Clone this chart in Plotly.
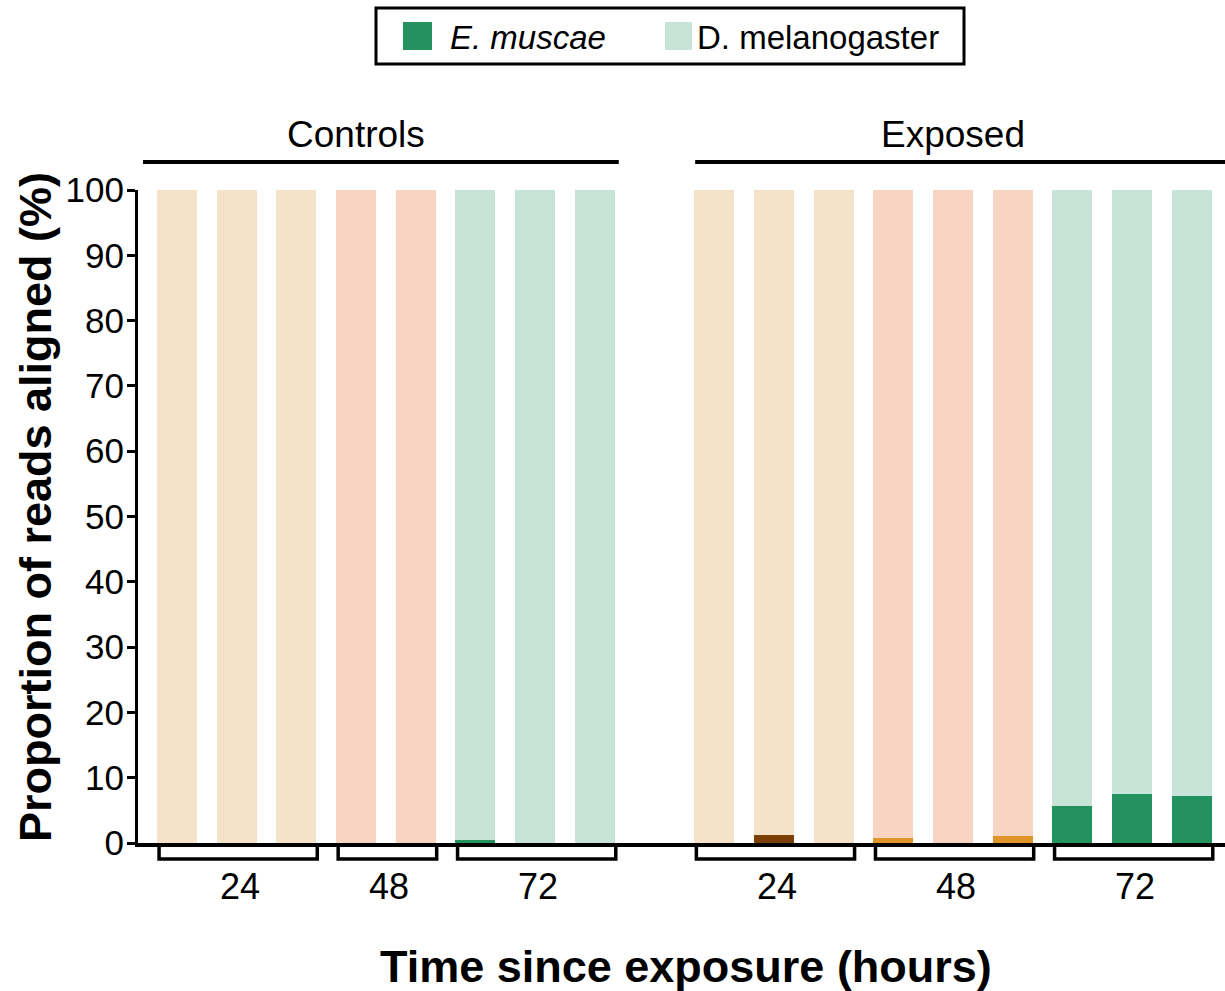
import plotly.graph_objects as go

# ---------------- data ----------------
groups = ["Controls", "Exposed"]
control_times = ["24", "24", "24", "48", "48", "72", "72", "72"]
exposed_times = ["24", "24", "24", "48", "48", "48", "72", "72", "72"]
emuscae_controls = [0, 0, 0, 0, 0, 0.4, 0, 0]
emuscae_exposed = [0, 1.2, 0, 0.7, 0, 1.0, 5.7, 7.5, 7.2]
time_labels = ["24", "48", "72"]
y_ticks = [0, 10, 20, 30, 40, 50, 60, 70, 80, 90, 100]

# ---------------- styles ----------------
FONT = "Liberation Sans, Arial, sans-serif"
host_colors = {"24": "#f5e3c9", "48": "#f8d5c3", "72": "#c8e4d9"}
fungus_colors = {"24": "#7c3f02", "48": "#df942c", "72": "#23925f"}
LEG_DARK = "#23925f"
LEG_LIGHT = "#c8e4d9"

W, H = 1225, 991
L, R, T, B = 138, 0, 190, 148
PW, PH = W - L - R, H - T - B


def px(xp):
    return (xp - L) / PW


def py(yp):
    return (H - B - yp) / PH


# positions: controls then one empty slot then exposed
x_ctrl = list(range(len(control_times)))
x_exp = [len(control_times) + 1 + i for i in range(len(exposed_times))]
xs = x_ctrl + x_exp
times = control_times + exposed_times
em = emuscae_controls + emuscae_exposed
dm = [100 - v for v in em]

fig = go.Figure()
fig.add_trace(go.Bar(
    x=xs, y=em, width=0.67, name="E. muscae", showlegend=False,
    marker=dict(color=[fungus_colors[t] for t in times], line=dict(width=0)),
))
fig.add_trace(go.Bar(
    x=xs, y=dm, width=0.67, name="D. melanogaster", showlegend=False,
    marker=dict(color=[host_colors[t] for t in times], line=dict(width=0)),
))

shapes = []
annotations = []

# brackets under each time group
def groups_of(times_list, offset):
    out = []
    start = 0
    for i in range(1, len(times_list) + 1):
        if i == len(times_list) or times_list[i] != times_list[start]:
            out.append((times_list[start], offset + start, offset + i - 1))
            start = i
    return out

all_groups = groups_of(control_times, 0) + groups_of(exposed_times, len(control_times) + 1)
for lab, a, b in all_groups:
    x0, x1 = a - 0.3, b + 0.35
    shapes.append(dict(type="path", xref="x", yref="paper",
                       path=f"M {x0},{py(847)} L {x0},{py(859)} L {x1},{py(859)} L {x1},{py(847)}",
                       line=dict(color="black", width=3.5)))
    annotations.append(dict(x=(a + b) / 2 + 0.05, xref="x", y=py(887), yref="paper",
                            text=lab, showarrow=False,
                            font=dict(family=FONT, size=36, color="black"),
                            xanchor="center", yanchor="middle"))

# group header lines and labels
hdr = [(groups[0], 0 - 0.57, len(control_times) - 1 + 0.4),
       (groups[1], len(control_times) + 1 - 0.32, len(control_times) + len(exposed_times) + 0.6)]
for name, x0, x1 in hdr:
    shapes.append(dict(type="line", xref="x", yref="paper", x0=x0, x1=x1,
                       y0=py(162), y1=py(162), line=dict(color="black", width=4)))
for name, cx in [(groups[0], px(356)), (groups[1], px(953))]:
    annotations.append(dict(x=cx, xref="paper", y=py(135), yref="paper", text=name,
                            showarrow=False, font=dict(family=FONT, size=37, color="black"),
                            xanchor="center", yanchor="middle"))

# legend (manual)
shapes.append(dict(type="rect", xref="paper", yref="paper",
                   x0=px(376), x1=px(964), y0=py(64), y1=py(8),
                   line=dict(color="black", width=3), fillcolor="white"))
shapes.append(dict(type="rect", xref="paper", yref="paper",
                   x0=px(403), x1=px(432), y0=py(50), y1=py(22),
                   line=dict(width=0), fillcolor=LEG_DARK))
shapes.append(dict(type="rect", xref="paper", yref="paper",
                   x0=px(665), x1=px(692), y0=py(50), y1=py(22),
                   line=dict(width=0), fillcolor=LEG_LIGHT))
annotations.append(dict(x=px(448), xref="paper", y=py(37), yref="paper",
                        text="<i>E. muscae</i>", showarrow=False,
                        font=dict(family=FONT, size=33, color="black"),
                        xanchor="left", yanchor="middle"))
annotations.append(dict(x=px(695), xref="paper", y=py(37), yref="paper",
                        text="D. melanogaster", showarrow=False,
                        font=dict(family=FONT, size=33, color="black"),
                        xanchor="left", yanchor="middle"))

# axis titles
annotations.append(dict(x=px(686), xref="paper", y=py(966), yref="paper",
                        text="<b>Time since exposure (hours)</b>", showarrow=False,
                        font=dict(family=FONT, size=45, color="black"),
                        xanchor="center", yanchor="middle"))
annotations.append(dict(x=px(35), xref="paper", y=py(507), yref="paper",
                        text="<b>Proportion of reads aligned (%)</b>", showarrow=False,
                        textangle=-90,
                        font=dict(family=FONT, size=45, color="black"),
                        xanchor="center", yanchor="middle"))

x_lo = -0.653
x_hi = x_lo + PW / 59.7

fig.update_layout(
    width=W, height=H,
    margin=dict(l=L, r=R, t=T, b=B, pad=0),
    paper_bgcolor="white", plot_bgcolor="white",
    barmode="stack", bargap=0,
    showlegend=False,
    shapes=shapes, annotations=annotations,
    xaxis=dict(range=[x_lo, x_hi], showticklabels=False, ticks="",
               showgrid=False, zeroline=False, showline=True,
               linecolor="black", linewidth=4, fixedrange=True),
    yaxis=dict(range=[0, 100], tickvals=y_ticks, ticks="outside", ticklen=8,
               tickwidth=3, tickcolor="black", showgrid=False, zeroline=False,
               showline=True, linecolor="black", linewidth=3,
               ticklabelstandoff=-4,
               tickfont=dict(family=FONT, size=35, color="black"),
               fixedrange=True),
)

fig.write_html("out.html")
